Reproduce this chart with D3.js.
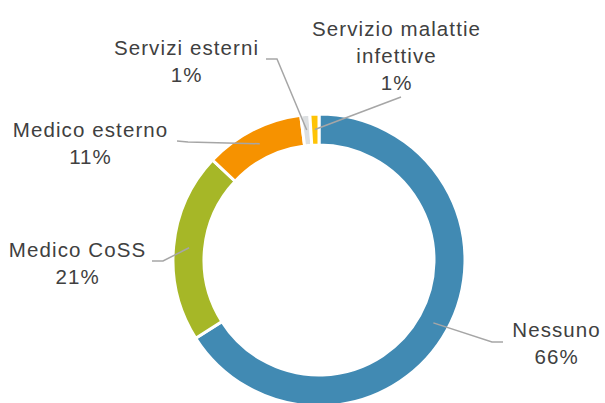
<!DOCTYPE html>
<html>
<head>
<meta charset="utf-8">
<script src="https://cdn.jsdelivr.net/npm/d3@7"></script>
<style>
  body { margin: 0; background: #fff; }
  svg text { font-family: "Liberation Sans", Arial, sans-serif; fill: #404040; }
</style>
</head>
<body>
<svg id="chart" width="605" height="403"></svg>
<script>
// data
const categories = ["Nessuno", "Medico CoSS", "Medico esterno", "Servizi esterni", "Servizio malattie infettive"];
const values = [66, 21, 11, 1, 1];
const labelLines = [["Nessuno"], ["Medico CoSS"], ["Medico esterno"], ["Servizi esterni"], ["Servizio malattie", "infettive"]];
const colors = ["#418ab3", "#a6b727", "#f69200", "#dcdfe1", "#fec306"];

const svg = d3.select("#chart");
const cx = 319, cy = 260, outerR = 146, innerR = 115;

const g = svg.append("g").attr("transform", `translate(${cx},${cy})`);

const pie = d3.pie().sort(null).value(d => d);
const arcs = pie(values);
const arc = d3.arc().innerRadius(innerR).outerRadius(outerR);

g.selectAll("path.slice")
    .data(arcs)
    .join("path")
    .attr("class", "slice")
    .attr("d", arc)
    .attr("fill", (d, i) => colors[i])
    .attr("stroke", "#fff")
    .attr("stroke-width", 3);

// label layout (absolute page coords): text center x, first baseline, leader elbow + end
const layout = [
    { x: 556, y: 337, pts: [[492, 342], [503, 342]] },
    { x: 77, y: 257, pts: [[163, 261], [152, 261]] },
    { x: 90, y: 137, pts: [[188, 142], [177, 141]] },
    { x: 186, y: 55, pts: [[277, 59], [266, 59]] },
    { x: 396, y: 36, pts: [[401, 97]] }
];
const lineH = 27;
const ls = 1.1;

const fmt = d3.format(".0%");
const total = d3.sum(values);

arcs.forEach((a, i) => {
    const c = arc.centroid(a);
    const pts = [[cx + c[0], cy + c[1]]].concat(layout[i].pts);
    svg.append("path")
        .attr("d", d3.line()(pts))
        .attr("fill", "none")
        .attr("stroke", "#a6a6a6")
        .attr("stroke-width", 1.5);

    const lines = labelLines[i].concat([fmt(values[i] / total)]);
    const t = svg.append("text")
        .attr("text-anchor", "middle")
        .style("font-size", "20.5px")
        .style("letter-spacing", ls + "px");
    lines.forEach((s, k) => {
        t.append("tspan")
            .attr("x", layout[i].x + ls / 2)
            .attr("y", layout[i].y + k * lineH)
            .text(s);
    });
});
</script>
</body>
</html>
